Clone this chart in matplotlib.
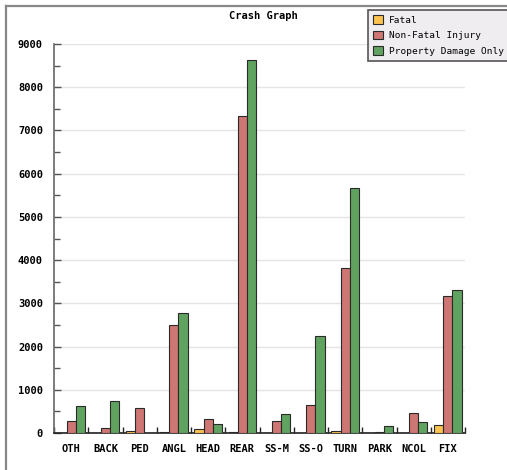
import matplotlib
matplotlib.use("Agg")
import matplotlib.pyplot as plt
from matplotlib.lines import Line2D
from matplotlib.ticker import MultipleLocator, FixedLocator
import numpy as np

categories = ["OTH", "BACK", "PED", "ANGL", "HEAD", "REAR", "SS-M", "SS-O", "TURN", "PARK", "NCOL", "FIX"]
fatal = [0, 0, 40, 15, 90, 20, 10, 0, 50, 10, 10, 180]
non_fatal = [280, 110, 570, 2500, 330, 7340, 270, 640, 3820, 20, 460, 3170]
pdo = [630, 740, 0, 2780, 200, 8620, 440, 2240, 5660, 160, 250, 3300]
series_names = ["Fatal", "Non-Fatal Injury", "Property Damage Only"]
colors = ["#fcc44e", "#cd7673", "#60a360"]

W, H = 507, 470
fig = plt.figure(figsize=(W / 100, H / 100), dpi=100)
ax = fig.add_axes([54 / W, 1 - 433 / H, (465 - 54) / W, (433 - 44) / H])

mono = "DejaVu Sans Mono"
x = np.arange(len(categories))
bw = 0.27
for i, (vals, c, name) in enumerate(zip([fatal, non_fatal, pdo], colors, series_names)):
    ax.bar(x + (i - 1) * bw, vals, width=bw, color=c, edgecolor="#2a2a2a",
           linewidth=0.8, label=name, zorder=3)

ax.set_xlim(-0.5, len(categories) - 0.5)
ax.set_ylim(0, 9000)
ax.yaxis.set_major_locator(MultipleLocator(1000))
ax.yaxis.set_minor_locator(MultipleLocator(500))
ax.grid(axis="y", which="major", color="#e4e4e4", linewidth=1.0, zorder=0)

ax.set_xticks(x)
ax.set_xticklabels(categories, fontfamily=mono, fontweight="bold", fontsize=7.5)
ax.xaxis.set_minor_locator(FixedLocator(np.arange(-0.5, len(categories), 1.0)))
ax.tick_params(axis="x", which="major", length=0, pad=8)
ax.tick_params(axis="x", which="minor", direction="in", length=4, width=1, color="#222222")
ax.tick_params(axis="y", which="major", direction="in", length=5, width=1, color="#555555", pad=8)
ax.tick_params(axis="y", which="minor", direction="in", length=4, width=1, color="#555555")
for lbl in ax.get_yticklabels():
    lbl.set_fontfamily(mono)
    lbl.set_fontweight("bold")
    lbl.set_fontsize(7.5)

for s in ["top", "right"]:
    ax.spines[s].set_visible(False)
ax.spines["left"].set_color("#666666")
ax.spines["left"].set_linewidth(1.2)
ax.spines["bottom"].set_color("#222222")
ax.spines["bottom"].set_linewidth(1.2)

fig.text(263 / W, 1 - 16 / H, "Crash Graph", ha="center", va="center",
         fontfamily=mono, fontweight="bold", fontsize=7.5)

leg = fig.legend(loc="upper left", bbox_to_anchor=(368 / W, 1 - 10 / H),
                 prop={"family": mono, "size": 6.8}, frameon=True, fancybox=False,
                 borderpad=0.55, labelspacing=0.62, handlelength=1.05, handleheight=1.05,
                 handletextpad=0.6, borderaxespad=0)
leg.get_frame().set_facecolor("#efedf0")
leg.get_frame().set_edgecolor("#555555")
leg.get_frame().set_linewidth(1.2)
leg.get_frame().set_alpha(1)

# outer frame
fig.add_artist(Line2D([6 / W, 6 / W], [0, 1 - 6 / H], transform=fig.transFigure,
                      color="#888888", linewidth=1.6))
fig.add_artist(Line2D([6 / W, 1], [1 - 6 / H, 1 - 6 / H], transform=fig.transFigure,
                      color="#888888", linewidth=1.6))

fig.savefig("out.png", dpi=100)
